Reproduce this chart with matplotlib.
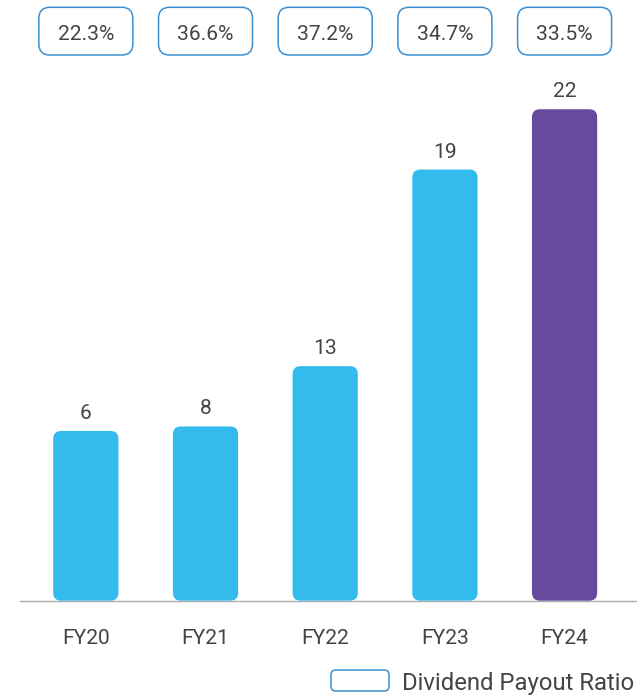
import matplotlib
matplotlib.use('Agg')
import matplotlib.pyplot as plt
from matplotlib.patches import FancyBboxPatch
from matplotlib.transforms import IdentityTransform

# ---- data ----
categories = ['FY20', 'FY21', 'FY22', 'FY23', 'FY24']
bar_values = [7.6, 7.8, 10.5, 19.3, 22.0]          # bar heights as drawn
value_labels = ['6', '8', '13', '19', '22']          # labels shown above bars
payout_ratios = ['22.3%', '36.6%', '37.2%', '34.7%', '33.5%']
legend_label = 'Dividend Payout Ratio'

# ---- style ----
BLUE = '#33BBED'
PURPLE = '#674A9D'
bar_colors = [BLUE, BLUE, BLUE, BLUE, PURPLE]
BOX_EDGE = '#3A8FD2'
TEXT = '#444444'

W, H, DPI = 637, 697, 100
plt.rcParams['font.family'] = ['Roboto', 'DejaVu Sans']
fig = plt.figure(figsize=(W / DPI, H / DPI), dpi=DPI)
fig.patch.set_facecolor('white')

base_px = 600.7
ax = fig.add_axes([20 / W, (H - base_px) / H, (W - 20) / W, base_px / H])
ax.set_xlim(-0.55, 4.605)
ax.set_ylim(0, 26.89)
for s in ['top', 'left', 'right']:
    ax.spines[s].set_visible(False)
ax.spines['bottom'].set_color('#ADADAD')
ax.spines['bottom'].set_linewidth(1.0)
ax.spines['bottom'].set_zorder(5)
ax.set_yticks([])
ax.set_xticks([])

x = list(range(len(categories)))
bars = ax.bar(x, bar_values, width=0.545, color=bar_colors)
fig.canvas.draw()

ident = IdentityTransform()
r = 8
for b, c in zip(bars, bar_colors):
    bb = b.get_window_extent()
    b.set_visible(False)
    p = FancyBboxPatch((bb.x0, bb.y0), bb.width, bb.height,
                       boxstyle=f'round,pad=0,rounding_size={r}',
                       transform=ident, facecolor=c, edgecolor='none',
                       clip_on=False, zorder=2)
    fig.add_artist(p)

# value labels above bars
for i, (v, lbl) in enumerate(zip(bar_values, value_labels)):
    ax.annotate(lbl, xy=(i, v), xytext=(0, 12), textcoords='offset pixels',
                ha='center', va='baseline', fontsize=15.1, color=TEXT)

# category labels
for i, c in enumerate(categories):
    ax.annotate(c, xy=(i, 0), xytext=(0, -43), textcoords='offset pixels',
                ha='center', va='baseline', fontsize=15.1, color=TEXT)

# payout ratio boxes on top
bw, bh = 94, 47.7
btop = H - 7.3
for i, pr in enumerate(payout_ratios):
    cx = ax.transData.transform((i, 0))[0]
    p = FancyBboxPatch((cx - bw / 2, btop - bh), bw, bh,
                       boxstyle='round,pad=0,rounding_size=11',
                       transform=ident, facecolor='white', edgecolor=BOX_EDGE,
                       linewidth=1.1, clip_on=False, zorder=3)
    fig.add_artist(p)
    fig.text(cx / W, (H - 40) / H, pr, ha='center', va='baseline',
             fontsize=15.1, color=TEXT)

# legend
lp = FancyBboxPatch((331, H - 691), 58, 21,
                    boxstyle='round,pad=0,rounding_size=5',
                    transform=ident, facecolor='white', edgecolor=BOX_EDGE,
                    linewidth=1.1, clip_on=False, zorder=3)
fig.add_artist(lp)
fig.text(402 / W, (H - 690) / H, legend_label, ha='left', va='baseline',
         fontsize=17.2, color=TEXT)

fig.savefig('out.png', dpi=DPI, facecolor='white')
